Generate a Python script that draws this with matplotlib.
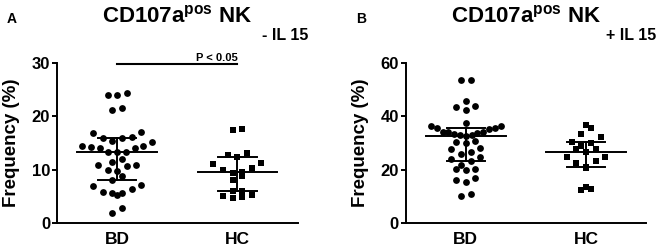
import numpy as np
import matplotlib
matplotlib.use("Agg")
import matplotlib.pyplot as plt

plt.rcParams["font.family"] = ["Liberation Sans", "DejaVu Sans"]
plt.rcParams["font.weight"] = "bold"
plt.rcParams["mathtext.fontset"] = "custom"
plt.rcParams["mathtext.rm"] = "Liberation Sans:bold"
plt.rcParams["mathtext.bf"] = "Liberation Sans:bold"

# values (frequency %)
groups = ["BD", "HC"]

a_bd = [24.5, 24.0, 24.0, 21.5, 21.2, 16.8, 16.0, 15.3, 16.0, 16.2, 17.0,
        14.5, 14.3, 14.1, 13.3, 13.4, 13.4, 14.1, 14.4, 15.2, 11.4, 11.9,
        10.8, 10.0, 10.7, 10.9, 9.7, 8.8, 8.1, 7.1, 7.0, 5.8, 5.6, 5.3,
        5.6, 6.3, 2.8, 1.9]
a_hc = [17.4, 17.7, 12.8, 12.4, 13.1, 11.25, 11.1, 9.5, 10.3, 9.4, 10.0,
        8.7, 8.1, 6.0, 5.05, 4.6, 4.8, 5.2, 6.06]
b_bd = [53.9, 53.9, 45.7, 43.6, 42.3, 44.0, 37.5, 36.5, 35.6, 34.3, 34.1,
        33.5, 33.1, 32.8, 33.1, 33.7, 34.1, 35.3, 35.8, 36.5, 29.9, 30.5,
        30.9, 28.0, 26.8, 27.7, 23.9, 24.6, 25.9, 23.4, 21.7, 20.2, 19.8,
        20.1, 16.1, 15.4, 17.0, 10.1, 10.8]
b_hc = [36.9, 35.6, 32.2, 33.3, 29.9, 29.0, 30.3, 27.7, 26.8, 27.7, 23.3,
        24.8, 24.8, 22.4, 21.1, 20.7, 13.3, 12.3, 12.7]

# median, 25th and 75th percentile bars as drawn
a_med = [13.4, 9.55]
a_q1 = [8.0, 6.05]
a_q3 = [16.0, 12.4]
b_med = [32.8, 26.8]
b_q1 = [23.4, 21.1]
b_q3 = [35.8, 30.2]

panels = [
    dict(letter="A", cond="- IL 15", data=[a_bd, a_hc], med=a_med, q1=a_q1, q3=a_q3,
         ymax=30, yticks=[0, 10, 20, 30], bin_h=1.95, bin_o=1.58, pval="P < 0.05"),
    dict(letter="B", cond="+ IL 15", data=[b_bd, b_hc], med=b_med, q1=b_q1, q3=b_q3,
         ymax=60, yticks=[0, 20, 40, 60], bin_h=3.9, bin_o=1.5, pval=None),
]


def row_offsets(vals, bin_h, bin_o, step=0.08, max_half=0.29):
    # GraphPad-like scatter: bin values into rows, spread each row centre-out
    vals = np.asarray(vals)
    bins = np.floor((vals - bin_o) / bin_h + 1e-9).astype(int)
    xs = np.zeros(len(vals))
    for b in np.unique(bins):
        idx = np.where(bins == b)[0]
        idx = idx[np.argsort(vals[idx])]
        n = len(idx)
        sp = step if n < 2 else min(step, 2 * max_half / (n - 1))
        if n % 2:
            slots = [0] + [s * k for k in range(1, n) for s in (-1, 1)]
        else:
            slots = [s * (k - 0.5) for k in range(1, n) for s in (-1, 1)]
        for i, j in enumerate(idx):
            xs[j] = slots[i] * sp
    return xs


W, H = 666, 249
fig = plt.figure(figsize=(W / 100, H / 100), dpi=100)

lefts = [57, 405.7]
for p, left in zip(panels, lefts):
    ax = fig.add_axes([left / W, 1 - 222.7 / H, 240.5 / W, 159.4 / H])
    for i, vals in enumerate(p["data"]):
        xs = i + row_offsets(vals, p["bin_h"], p["bin_o"])
        ax.scatter(xs, vals, s=24 if i == 0 else 21, marker="o" if i == 0 else "s",
                   color="black", linewidths=0, zorder=3)
        ax.plot([i - 0.33, i + 0.33], [p["med"][i]] * 2, color="black", lw=1.4, zorder=4)
        ax.plot([i - 0.16, i + 0.16], [p["q1"][i]] * 2, color="black", lw=1.4, zorder=4)
        ax.plot([i - 0.16, i + 0.16], [p["q3"][i]] * 2, color="black", lw=1.4, zorder=4)
        ax.plot([i, i], [p["q1"][i], p["q3"][i]], color="black", lw=1.4, zorder=4)

    ax.set_xlim(-0.5, 1.5)
    ax.set_ylim(0, p["ymax"])
    ax.set_yticks(p["yticks"])
    ax.set_xticks([0, 1])
    ax.set_xticklabels(groups, fontsize=12.5, fontweight="bold")
    ax.tick_params(axis="x", length=0, pad=7)
    ax.tick_params(axis="y", length=3.5, width=1.4, pad=1.5, labelsize=12)
    for lab in ax.get_yticklabels():
        lab.set_fontweight("bold")
    for s in ["top", "right"]:
        ax.spines[s].set_visible(False)
    for s in ["left", "bottom"]:
        ax.spines[s].set_linewidth(1.4)

    if p["pval"]:
        y_bar = p["ymax"] * 0.993
        ax.plot([0, 1], [y_bar, y_bar], color="black", lw=1.5, clip_on=False)
        ax.text(1.0, p["ymax"] * 1.013, p["pval"], ha="right", va="baseline",
                fontsize=8, fontweight="bold", clip_on=False)

    cx = (left + 120) / W
    fig.text(cx, 1 - 22 / H, r"CD107a$^{\mathbf{pos}}$ NK", ha="center", va="baseline",
             fontsize=16, fontweight="bold")
    fig.text(7 / W if p["letter"] == "A" else 356 / W, 1 - 23 / H,
             p["letter"], ha="left", va="baseline", fontsize=10, fontweight="bold")
    fig.text((left + 251) / W, 1 - 39.5 / H, p["cond"], ha="right", va="baseline",
             fontsize=11.5, fontweight="bold")
    fig.text((left - 45) / W, 1 - 143 / H, "Frequency (%)", rotation=90,
             ha="center", va="center", fontsize=13.5, fontweight="bold")

fig.savefig("out.png", dpi=100)
